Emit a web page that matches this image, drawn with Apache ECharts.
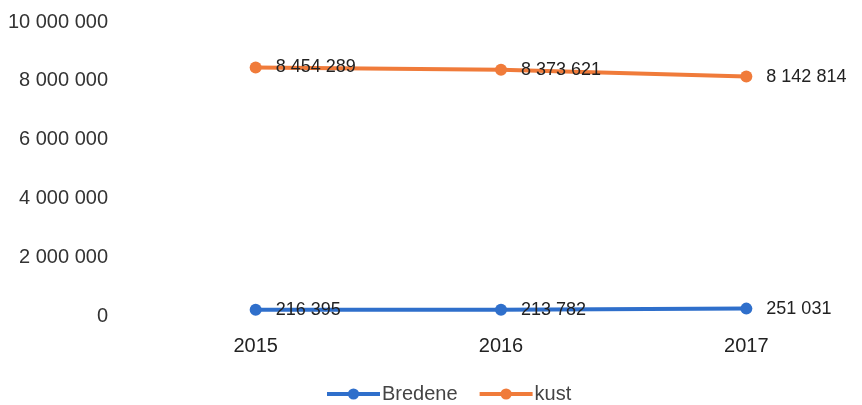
<!DOCTYPE html>
<html>
<head>
<meta charset="utf-8">
<script src="https://cdn.jsdelivr.net/npm/echarts@6/dist/echarts.min.js"></script>
<style>
  html, body { margin: 0; padding: 0; background: #fff; overflow: hidden; }
  #chart { width: 870px; height: 405px; }
</style>
</head>
<body>
<div id="chart"></div>
<script>
const years = ["2015", "2016", "2017"];
const bredene = [216395, 213782, 251031];
const kust = [8454289, 8373621, 8142814];

// spatie als duizendtalscheiding
function fmt(v) {
  return String(v).replace(/\B(?=(\d{3})+(?!\d))/g, " ");
}

const font = "Liberation Sans";
const chart = echarts.init(document.getElementById("chart"));

const labelStyle = {
  show: true,
  position: "right",
  distance: 14,
  color: "#222",
  fontFamily: font,
  fontSize: 18,
  formatter: (p) => fmt(p.value),
};

chart.setOption({
  animation: false,
  grid: { left: 133, top: 22, right: 1, bottom: 89 },
  legend: {
    bottom: -4,
    left: 320,
    itemWidth: 53,
    itemHeight: 14,
    itemGap: 20,
    lineStyle: { width: 4 },
    textStyle: { fontFamily: font, fontSize: 20, color: "#444", padding: [0, 0, 0, -3] },
    data: ["Bredene", "kust"],
  },
  xAxis: {
    type: "category",
    data: years,
    axisLine: { show: false },
    axisTick: { show: false },
    axisLabel: { color: "#222", fontFamily: font, fontSize: 20, margin: 20 },
  },
  yAxis: {
    type: "value",
    min: 0,
    max: 10000000,
    interval: 2000000,
    splitLine: { show: false },
    axisLabel: {
      color: "#333",
      fontFamily: font,
      fontSize: 20,
      margin: 25,
      formatter: (v) => fmt(v),
    },
  },
  series: [
    {
      name: "Bredene",
      type: "line",
      data: bredene,
      color: "#2f6fcb",
      lineStyle: { width: 4 },
      symbol: "circle",
      symbolSize: 12,
      label: labelStyle,
    },
    {
      name: "kust",
      type: "line",
      data: kust,
      color: "#f07b3a",
      lineStyle: { width: 4 },
      symbol: "circle",
      symbolSize: 12,
      label: labelStyle,
    },
  ],
});
</script>
</body>
</html>
